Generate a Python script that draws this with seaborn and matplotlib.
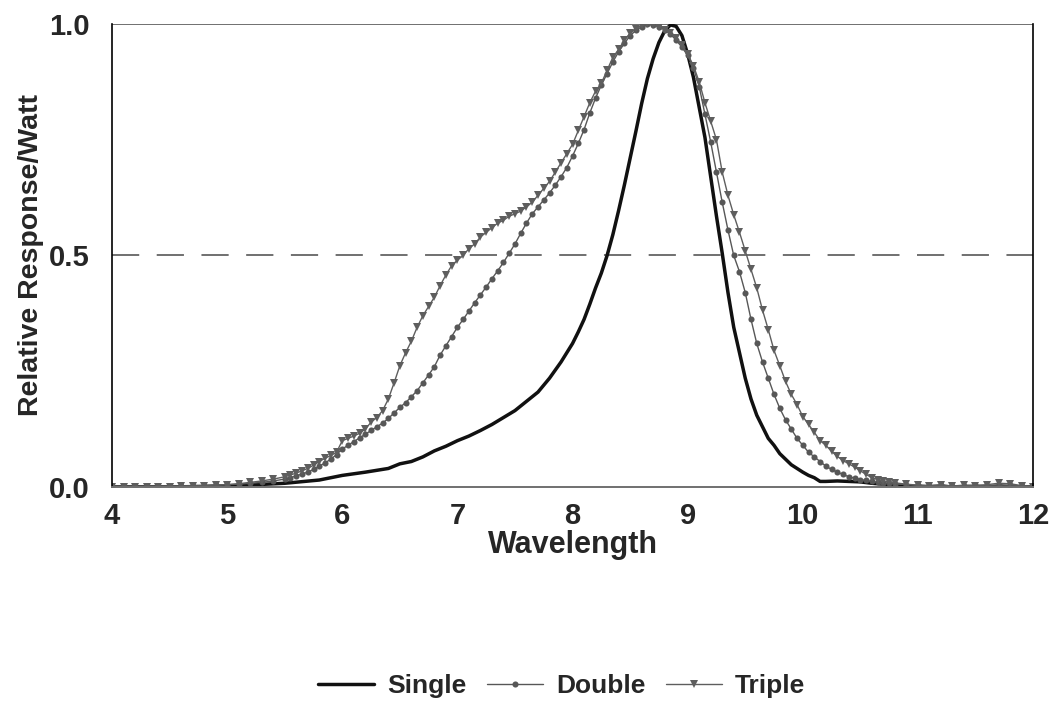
import numpy as np
import pandas as pd
import matplotlib
matplotlib.use("Agg")
import matplotlib.pyplot as plt
from matplotlib.ticker import MultipleLocator
import seaborn as sns

# ---------------------------------------------
# DATA
# ---------------------------------------------
wl_single = [4.0, 4.5, 5.0, 5.5, 5.8, 6.0, 6.2, 6.4, 6.5, 6.6, 6.7, 6.8, 6.9,
             7.0, 7.1, 7.2, 7.3, 7.4, 7.5, 7.6, 7.7, 7.8, 7.9, 8.0, 8.05, 8.1,
             8.15, 8.2, 8.25, 8.3, 8.35, 8.4, 8.45, 8.5, 8.55, 8.6, 8.65, 8.7,
             8.75, 8.8, 8.85, 8.9, 8.95, 9.0, 9.05, 9.1, 9.15, 9.2, 9.25, 9.3,
             9.35, 9.4, 9.45, 9.5, 9.55, 9.6, 9.65, 9.7, 9.75, 9.8, 9.85, 9.9,
             9.95, 10.0, 10.05, 10.1, 10.15, 10.2, 10.3, 10.4, 10.5, 10.6,
             10.7, 10.8, 10.9, 11.0, 12.0]
resp_single = [0.000, 0.000, 0.002, 0.008, 0.015, 0.025, 0.032, 0.040, 0.050,
               0.055, 0.065, 0.078, 0.088, 0.100, 0.110, 0.122, 0.135, 0.150,
               0.165, 0.185, 0.205, 0.235, 0.270, 0.310, 0.335, 0.362, 0.395,
               0.430, 0.462, 0.500, 0.545, 0.597, 0.652, 0.710, 0.768, 0.828,
               0.882, 0.925, 0.960, 0.985, 0.998, 0.995, 0.975, 0.935, 0.885,
               0.820, 0.755, 0.670, 0.585, 0.505, 0.420, 0.345, 0.290, 0.235,
               0.190, 0.155, 0.130, 0.105, 0.090, 0.072, 0.060, 0.048, 0.040,
               0.032, 0.025, 0.020, 0.012, 0.012, 0.013, 0.012, 0.011, 0.008,
               0.006, 0.003, 0.001, 0.000, 0.000]

wl_double = [4.0, 4.1, 4.2, 4.3, 4.4, 4.5, 4.6, 4.7, 4.8, 4.9, 5.0, 5.1, 5.2,
             5.3, 5.4, 5.5, 5.55, 5.6, 5.65, 5.7, 5.75, 5.8, 5.85, 5.9, 5.95,
             6.0, 6.05, 6.1, 6.15, 6.2, 6.25, 6.3, 6.35, 6.4, 6.45, 6.5, 6.55,
             6.6, 6.65, 6.7, 6.75, 6.8, 6.85, 6.9, 6.95, 7.0, 7.05, 7.1, 7.15,
             7.2, 7.25, 7.3, 7.35, 7.4, 7.45, 7.5, 7.55, 7.6, 7.65, 7.7, 7.75,
             7.8, 7.85, 7.9, 7.95, 8.0, 8.05, 8.1, 8.15, 8.2, 8.25, 8.3, 8.35,
             8.4, 8.45, 8.5, 8.55, 8.6, 8.65, 8.7, 8.75, 8.8, 8.85, 8.9, 8.95,
             9.0, 9.05, 9.1, 9.15, 9.2, 9.25, 9.3, 9.35, 9.4, 9.45, 9.5, 9.55,
             9.6, 9.65, 9.7, 9.75, 9.8, 9.85, 9.9, 9.95, 10.0, 10.05, 10.1,
             10.15, 10.2, 10.25, 10.3, 10.35, 10.4, 10.45, 10.5, 10.55, 10.6,
             10.65, 10.7, 10.75, 10.8, 10.9, 11.0, 11.1, 11.2, 11.3, 11.4,
             11.5, 11.6, 11.7, 11.8, 11.9, 12.0]
resp_double = [0.000, 0.001, 0.000, 0.001, 0.001, 0.002, 0.002, 0.003, 0.003,
               0.004, 0.005, 0.006, 0.008, 0.010, 0.013, 0.017, 0.020, 0.024,
               0.028, 0.032, 0.038, 0.045, 0.052, 0.060, 0.070, 0.082, 0.090,
               0.098, 0.106, 0.114, 0.122, 0.130, 0.138, 0.148, 0.160, 0.172,
               0.182, 0.195, 0.208, 0.225, 0.242, 0.260, 0.285, 0.305, 0.325,
               0.345, 0.362, 0.380, 0.398, 0.415, 0.432, 0.450, 0.467, 0.485,
               0.505, 0.525, 0.548, 0.570, 0.590, 0.605, 0.620, 0.635, 0.652,
               0.670, 0.690, 0.715, 0.742, 0.772, 0.808, 0.840, 0.868, 0.893,
               0.918, 0.940, 0.958, 0.975, 0.986, 0.994, 0.999, 0.998, 0.994,
               0.988, 0.978, 0.965, 0.950, 0.932, 0.905, 0.865, 0.805, 0.745,
               0.680, 0.615, 0.555, 0.500, 0.465, 0.420, 0.362, 0.310, 0.270,
               0.235, 0.200, 0.170, 0.145, 0.125, 0.105, 0.090, 0.075, 0.065,
               0.055, 0.045, 0.038, 0.032, 0.027, 0.022, 0.019, 0.016, 0.014,
               0.012, 0.010, 0.009, 0.008, 0.007, 0.005, 0.004, 0.003, 0.004,
               0.002, 0.003, 0.004, 0.003, 0.005, 0.004, 0.002, 0.001]

wl_triple = [4.0, 4.1, 4.2, 4.3, 4.4, 4.5, 4.6, 4.7, 4.8, 4.9, 5.0, 5.1, 5.2,
             5.3, 5.4, 5.5, 5.55, 5.6, 5.65, 5.7, 5.75, 5.8, 5.85, 5.9, 5.95,
             6.0, 6.05, 6.1, 6.15, 6.2, 6.25, 6.3, 6.35, 6.4, 6.45, 6.5, 6.55,
             6.6, 6.65, 6.7, 6.75, 6.8, 6.85, 6.9, 6.95, 7.0, 7.05, 7.1, 7.15,
             7.2, 7.25, 7.3, 7.35, 7.4, 7.45, 7.5, 7.55, 7.6, 7.65, 7.7, 7.75,
             7.8, 7.85, 7.9, 7.95, 8.0, 8.05, 8.1, 8.15, 8.2, 8.25, 8.3, 8.35,
             8.4, 8.45, 8.5, 8.55, 8.6, 8.65, 8.7, 8.75, 8.8, 8.85, 8.9, 8.95,
             9.0, 9.05, 9.1, 9.15, 9.2, 9.25, 9.3, 9.35, 9.4, 9.45, 9.5, 9.55,
             9.6, 9.65, 9.7, 9.75, 9.8, 9.85, 9.9, 9.95, 10.0, 10.05, 10.1,
             10.15, 10.2, 10.25, 10.3, 10.35, 10.4, 10.45, 10.5, 10.55, 10.6,
             10.65, 10.7, 10.75, 10.8, 10.9, 11.0, 11.1, 11.2, 11.3, 11.4,
             11.5, 11.6, 11.7, 11.8, 11.9, 12.0]
resp_triple = [0.000, 0.000, 0.001, 0.000, 0.001, 0.001, 0.002, 0.002, 0.003,
               0.004, 0.005, 0.007, 0.010, 0.013, 0.017, 0.022, 0.026, 0.030,
               0.035, 0.040, 0.047, 0.055, 0.062, 0.068, 0.075, 0.100, 0.105,
               0.110, 0.116, 0.125, 0.140, 0.150, 0.165, 0.190, 0.225, 0.262,
               0.290, 0.315, 0.345, 0.370, 0.390, 0.410, 0.435, 0.458, 0.478,
               0.490, 0.500, 0.515, 0.525, 0.540, 0.550, 0.560, 0.570, 0.576,
               0.585, 0.590, 0.596, 0.605, 0.615, 0.630, 0.645, 0.660, 0.680,
               0.700, 0.720, 0.740, 0.770, 0.800, 0.830, 0.855, 0.872, 0.900,
               0.928, 0.945, 0.965, 0.980, 0.990, 0.997, 1.000, 0.998, 0.993,
               0.988, 0.980, 0.970, 0.955, 0.935, 0.910, 0.875, 0.830, 0.790,
               0.750, 0.680, 0.630, 0.588, 0.550, 0.510, 0.470, 0.430, 0.382,
               0.340, 0.295, 0.262, 0.228, 0.200, 0.178, 0.152, 0.135, 0.118,
               0.100, 0.090, 0.077, 0.066, 0.057, 0.050, 0.043, 0.035, 0.027,
               0.020, 0.016, 0.013, 0.011, 0.009, 0.006, 0.004, 0.003, 0.005,
               0.002, 0.004, 0.003, 0.005, 0.008, 0.007, 0.003, 0.001]

series_names = ["Single", "Double", "Triple"]

# ---------------------------------------------
# STYLE
# ---------------------------------------------
sns.set_style("white")
plt.rcParams['font.family'] = ['Liberation Sans', 'DejaVu Sans']
plt.rcParams['font.weight'] = 'bold'

fig = plt.figure(figsize=(10.52, 7.02), dpi=100)
ax = fig.add_axes([0.1065, 0.3063, 0.8755, 0.6595])

sns.lineplot(x=wl_single, y=resp_single, ax=ax, color='#111111',
             linewidth=2.5, sort=False, label=series_names[0])
sns.lineplot(x=wl_double, y=resp_double, ax=ax, color='#575757',
             linewidth=1.0, marker='o', markersize=4.4, markeredgewidth=0,
             sort=False, label=series_names[1])
sns.lineplot(x=wl_triple, y=resp_triple, ax=ax, color='#5e5e5e',
             linewidth=1.0, marker='v', markersize=5.6, markeredgewidth=0,
             sort=False, label=series_names[2])

# reference lines at 0.5 and 1.0
ax.axhline(0.5, color='#707070', linewidth=1.4, dashes=(14, 9), zorder=0)
ax.axhline(1.0, color='#707070', linewidth=1.4, zorder=0)

ax.set_xlim(4, 12)
ax.set_ylim(0, 1)
ax.xaxis.set_major_locator(MultipleLocator(1))
ax.xaxis.set_minor_locator(MultipleLocator(0.25))
ax.yaxis.set_major_locator(MultipleLocator(0.5))
ax.yaxis.set_minor_locator(MultipleLocator(0.1))
ax.yaxis.set_major_formatter(matplotlib.ticker.FormatStrFormatter('%.1f'))

ax.tick_params(axis='both', which='major', direction='inout', length=12,
               width=1, color='#222222', labelsize=21)
ax.tick_params(axis='both', which='minor', direction='inout', length=7,
               width=1, color='#222222')
ax.tick_params(axis='x', which='major', pad=5)
ax.tick_params(axis='y', which='major', pad=10)
for lab in ax.get_xticklabels() + ax.get_yticklabels():
    lab.set_fontweight('bold')

for side in ['left', 'right']:
    ax.spines[side].set_color('black')
    ax.spines[side].set_linewidth(1.2)
ax.spines['top'].set_visible(False)
ax.spines['bottom'].set_color('#707070')
ax.spines['bottom'].set_linewidth(1.4)

ax.set_xlabel('Wavelength', fontsize=22, fontweight='bold', labelpad=0)
ax.set_ylabel('Relative Response/Watt', fontsize=20.5, fontweight='bold',
              labelpad=4)

handles, labels = ax.get_legend_handles_labels()
ax.legend_.remove()
fig.legend(handles, labels, loc='center', bbox_to_anchor=(0.534, 0.023),
           ncol=3, frameon=False, handlelength=2.1,
           columnspacing=0.8, handletextpad=0.5,
           prop={'weight': 'bold', 'size': 19})

fig.savefig('out.png', dpi=100)
